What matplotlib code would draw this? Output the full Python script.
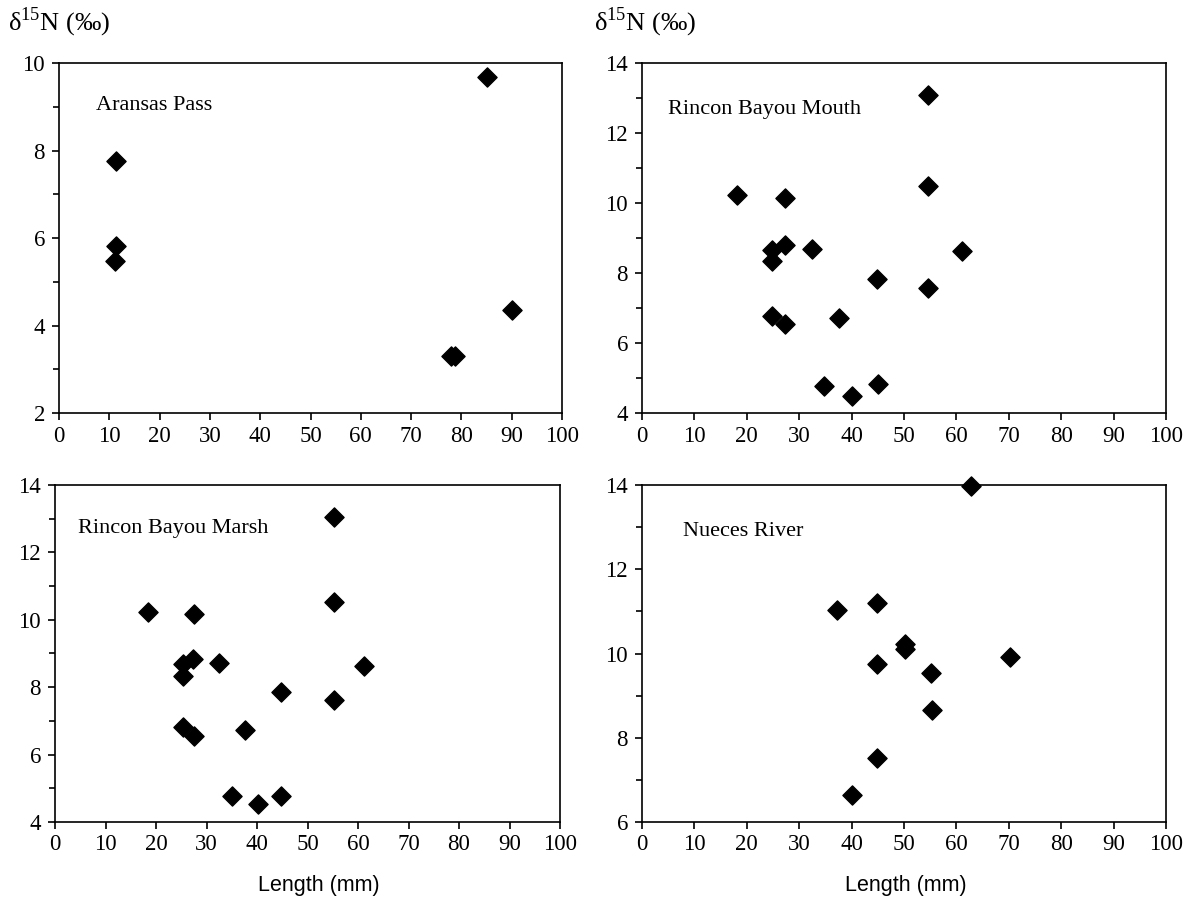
import numpy as np
import matplotlib
matplotlib.use("Agg")
import matplotlib.pyplot as plt
from matplotlib.ticker import MultipleLocator

plt.rcParams["font.family"] = "Liberation Serif"
plt.rcParams["mathtext.fontset"] = "custom"
plt.rcParams["mathtext.rm"] = "Liberation Serif"

# Aransas Pass
ap_len = [11.3, 11.3, 11.1, 77.9, 78.8, 85.1, 90.0]
ap_d15n = [7.75, 5.81, 5.48, 3.31, 3.31, 9.69, 4.35]

# Rincon Bayou Mouth
rbm_len = [54.5, 18.2, 27.3, 54.5, 24.9, 27.3, 32.5, 61.0, 24.9, 44.9, 54.5, 24.9, 27.3, 37.6, 34.7, 40.0, 45.0]
rbm_d15n = [13.09, 10.22, 10.15, 10.49, 8.66, 8.81, 8.68, 8.63, 8.33, 7.82, 7.56, 6.77, 6.55, 6.71, 4.77, 4.50, 4.82]

# Rincon Bayou Marsh
rbk_len = [55.2, 18.5, 27.5, 55.2, 25.3, 27.3, 32.5, 61.2, 25.3, 44.7, 55.2, 25.3, 27.6, 37.7, 35.1, 40.1, 44.8]
rbk_d15n = [13.06, 10.22, 10.18, 10.52, 8.69, 8.85, 8.72, 8.63, 8.34, 7.85, 7.62, 6.81, 6.56, 6.72, 4.78, 4.53, 4.78]

# Nueces River
nr_len = [62.7, 37.3, 44.9, 50.2, 50.2, 44.9, 70.2, 55.1, 55.3, 44.9, 40.0]
nr_d15n = [13.98, 11.04, 11.21, 10.22, 10.10, 9.75, 9.91, 9.54, 8.65, 7.53, 6.64]

W, H = 1193, 897
fig = plt.figure(figsize=(W / 100, H / 100), dpi=100)


def make_axes(px_left, px_right, px_top, px_bottom):
    return fig.add_axes([px_left / W, 1 - px_bottom / H,
                         (px_right - px_left) / W, (px_bottom - px_top) / H])


panels = [
    (make_axes(59, 562, 63, 413), ap_len, ap_d15n, (2, 10), "Aransas Pass", (0.074, 0.88)),
    (make_axes(642, 1166, 63, 413), rbm_len, rbm_d15n, (4, 14), "Rincon Bayou Mouth", (0.05, 0.866)),
    (make_axes(55, 560, 485, 822), rbk_len, rbk_d15n, (4, 14), "Rincon Bayou Marsh", (0.046, 0.872)),
    (make_axes(642, 1166, 485, 822), nr_len, nr_d15n, (6, 14), "Nueces River", (0.078, 0.863)),
]

for ax, x, y, ylim, name, pos in panels:
    ax.scatter(x, y, marker="D", s=95, color="black", zorder=3, clip_on=False)
    ax.set_xlim(0, 100)
    ax.set_ylim(*ylim)
    ax.xaxis.set_major_locator(MultipleLocator(10))
    ax.yaxis.set_major_locator(MultipleLocator(2))
    ax.yaxis.set_minor_locator(MultipleLocator(1))
    ax.tick_params(axis="both", which="major", direction="out", length=5,
                   width=1.2, labelsize=16.5, colors="black")
    ax.tick_params(axis="y", which="minor", direction="out", length=4, width=1.2)
    ax.tick_params(axis="y", which="major", pad=5)
    ax.tick_params(axis="x", which="major", pad=4)
    for sp in ax.spines.values():
        sp.set_linewidth(1.2)
    ax.text(pos[0], pos[1], name, transform=ax.transAxes, fontsize=16,
            ha="left", va="center")

fig.text(8 / W, 1 - 22 / H, "δ$^{15}$N (‰)", fontsize=19, ha="left", va="center")
fig.text(594 / W, 1 - 22 / H, "δ$^{15}$N (‰)", fontsize=19, ha="left", va="center")

fig.text(319 / W, 1 - 885 / H, "Length (mm)", fontsize=15.5, ha="center", va="center",
         family="Liberation Sans")
fig.text(906 / W, 1 - 885 / H, "Length (mm)", fontsize=15.5, ha="center", va="center",
         family="Liberation Sans")

fig.savefig("out.png", dpi=100)
